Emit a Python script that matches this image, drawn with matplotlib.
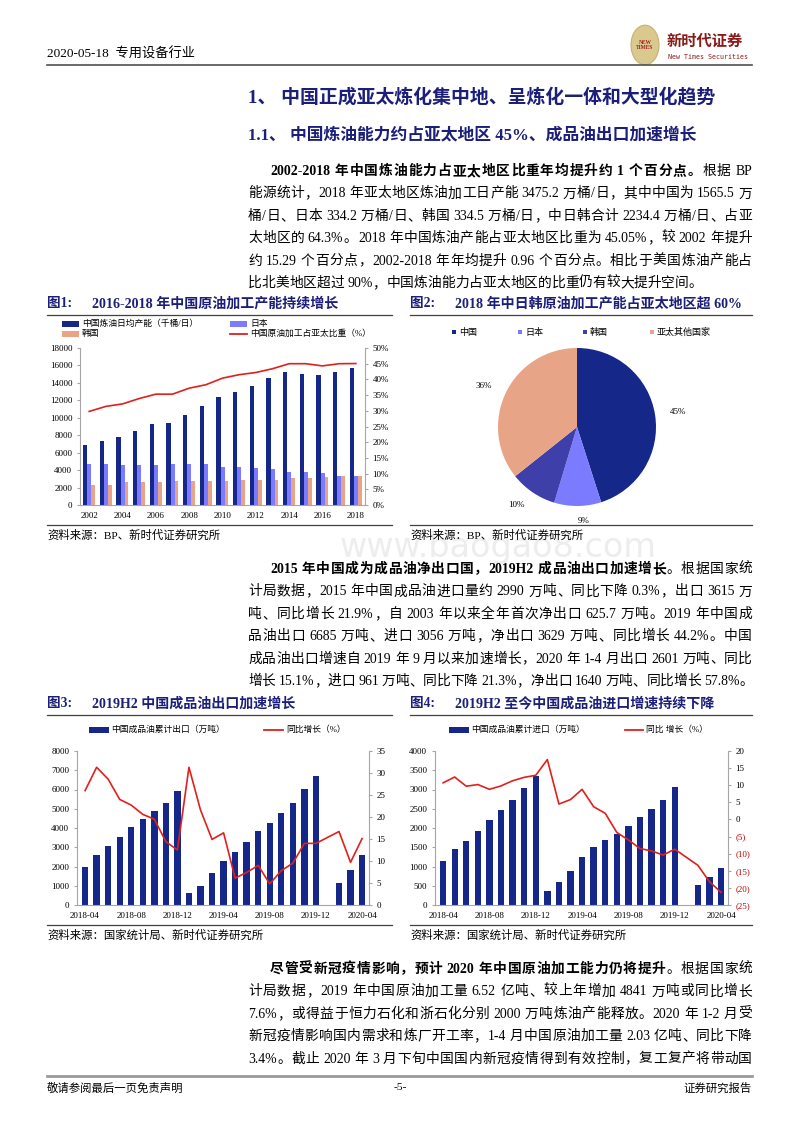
import re
import numpy as np
import matplotlib
matplotlib.use('Agg')
import matplotlib.pyplot as plt
from matplotlib.patches import Rectangle, Circle
from matplotlib.lines import Line2D

# ---- data ----
years = list(range(2002, 2019))
china_cap = [6900, 7350, 7850, 8500, 9250, 9450, 10350, 11350, 12350, 13000, 13650,
             14550, 15250, 15000, 14850, 15250, 15655]
japan_cap = [4750, 4700, 4550, 4550, 4600, 4700, 4700, 4700, 4350, 4350, 4250,
             4150, 3800, 3750, 3650, 3350, 3342]
korea_cap = [2300, 2300, 2600, 2600, 2650, 2700, 2750, 2750, 2750, 2850, 2870,
             2870, 3150, 3150, 3250, 3330, 3345]
china_share = [29.8, 31.4, 32.2, 33.9, 35.3, 35.3, 37.2, 38.3, 40.4, 41.5, 42.2,
               43.4, 45.0, 45.0, 44.3, 45.0, 45.05]

pie_names = ['中国', '日本', '韩国', '亚太其他国家']
pie_vals = [1565.5, 334.2, 334.5, 1240.8]
pie_pct = ['45%', '9%', '10%', '36%']

month_ticks = ['2018-04', '2018-08', '2018-12', '2019-04', '2019-08', '2019-12', '2020-04']
nan = np.nan
export_cum = [1990, 2610, 3080, 3530, 4070, 4450, 4870, 5280, 5900, 610, 970, 1680, 2300,
              2750, 3290, 3830, 4240, 4800, 5300, 6040, 6685, nan, 1130, 1840, 2601]
export_yoy = [26.0, 31.3, 28.6, 24.0, 22.7, 20.6, 19.5, 14.4, 12.5, 31.3, 21.6, 14.9, 16.4,
              6.1, 7.4, 9.0, 4.8, 7.8, 9.5, 14.0, 14.0, nan, 16.7, 9.7, 15.1]
import_cum = [1150, 1450, 1670, 1930, 2200, 2480, 2730, 3040, 3360, 355, 590, 890, 1240,
              1500, 1700, 1850, 2060, 2280, 2500, 2740, 3056, nan, 520, 740, 961]
import_yoy = [10.7, 12.4, 9.7, 10.2, 8.8, 9.8, 11.3, 12.3, 12.9, 17.5, 4.5, 5.8, 8.8,
              3.7, 1.8, -3.8, -6.0, -8.5, -9.2, -10.4, -8.7, nan, -13.4, -18.2, -21.3]

# ---- style ----
FONT = ['Liberation Serif', 'Noto Sans CJK SC']
NAVY = '#15288A'
TITLE = '#1B1F7A'
JAPAN = '#7B7BFF'
KOREA_PIE = '#3F3FAA'
SALMON = '#E8A487'
RED = '#E0201C'
GRAY = '#A6A6A6'

plt.rcParams['font.family'] = FONT
W, H = 800, 1132
fig = plt.figure(figsize=(8, 11.32), dpi=100)
R = fig.canvas.get_renderer()


def fx(x):
    return x / W


def fy(y):
    return 1 - y / H


def text(x, y, s, size=9, **kw):
    va = kw.pop('va', 'center')
    return fig.text(fx(x), fy(y), s, fontsize=size, va=va, **kw)


def hline(x0, x1, y, lw=0.8, color='#404040'):
    fig.add_artist(Line2D([fx(x0), fx(x1)], [fy(y), fy(y)], lw=lw, color=color))


def box(x0, y0, x1, y1, color):
    fig.add_artist(Rectangle((fx(x0), fy(y1)), (x1 - x0) / W, (y1 - y0) / H,
                             color=color, lw=0, transform=fig.transFigure))


def axes_px(x0, y0, x1, y1):
    return fig.add_axes([fx(x0), fy(y1), (x1 - x0) / W, (y1 - y0) / H])


def body_line(x0, x1, y, segs, size=9.9, justify=True):
    # segs: list of (text, bold); justified token by token
    items = []
    for s, bold in segs:
        for tok in re.findall(r'[0-9A-Za-z.%/\-]+| +|.', s):
            items.append((tok, bold))
    arts, widths = [], []
    for tok, bold in items:
        if tok.strip() == '':
            arts.append(None)
            widths.append(size * 0.3 * len(tok))
            continue
        t = fig.text(0, 0, tok, fontsize=size, va='baseline',
                     fontweight='bold' if bold else 'normal')
        arts.append(t)
        widths.append(t.get_window_extent(R).width)
    gap = 0
    if justify and len(items) > 1:
        gap = (x1 - x0 - sum(widths)) / (len(items) - 1)
    x = x0
    for t, w in zip(arts, widths):
        if t is not None:
            t.set_position((fx(x), fy(y + 5)))
        x += w + gap


def paragraph(y0, lines, step=22.4, last_justified=False):
    for i, segs in enumerate(lines):
        x0 = 270 if i == 0 else 248
        body_line(x0, 752, y0 + i * step, segs,
                  justify=(i < len(lines) - 1) or last_justified)


def style_axes(ax, ax2):
    for a in (ax, ax2):
        for s in a.spines.values():
            s.set_visible(False)
        a.tick_params(labelsize=6.5, length=2.5, color=GRAY, pad=3)
    ax.spines['left'].set_visible(True)
    ax.spines['bottom'].set_visible(True)
    ax2.spines['right'].set_visible(True)
    for s in (ax.spines['left'], ax.spines['bottom'], ax2.spines['right']):
        s.set_color(GRAY)
        s.set_linewidth(0.8)
    ax.tick_params(axis='x', length=0, pad=5)


# ---- header ----
text(47, 54, '2020-05-18  专用设备行业', 9.5)
hline(47, 752, 65, lw=1.2, color='#505050')
fig.add_artist(Circle((fx(645), fy(45)), 14 / W, transform=fig.transFigure,
                      facecolor='#D9C98F', edgecolor='#C8B070', lw=0.8))
text(645, 45, 'NEW\nTIMES', 4, ha='center', color='#A02020', fontweight='bold',
     linespacing=0.9)
text(667, 42, '新时代证券', 11, color='#8B1A1A', fontweight='bold')
text(668, 57, 'New Times Securities', 4.8, color='#8B1A1A', family='DejaVu Sans Mono')

# watermark
text(498, 548, 'www.baogao8.com', 24, ha='center', color='#EDEDED',
     family='DejaVu Sans', zorder=0)

# ---- headings ----
text(248, 97, '1、 中国正成亚太炼化集中地、呈炼化一体和大型化趋势', 13.6, color=TITLE,
     fontweight='bold')
text(248, 135, '1.1、 中国炼油能力约占亚太地区 45%、成品油出口加速增长', 12.1, color=TITLE,
     fontweight='bold')

paragraph(170, [
    [('2002-2018 年中国炼油能力占亚太地区比重年均提升约 1 个百分点。', True), ('根据 BP', False)],
    [('能源统计，2018 年亚太地区炼油加工日产能 3475.2 万桶/日，其中中国为 1565.5 万', False)],
    [('桶/日、日本 334.2 万桶/日、韩国 334.5 万桶/日，中日韩合计 2234.4 万桶/日、占亚', False)],
    [('太地区的 64.3%。2018 年中国炼油产能占亚太地区比重为 45.05%，较 2002 年提升', False)],
    [('约 15.29 个百分点，2002-2018 年年均提升 0.96 个百分点。相比于美国炼油产能占', False)],
    [('比北美地区超过 90%，中国炼油能力占亚太地区的比重仍有较大提升空间。', False)],
])

paragraph(568, [
    [('2015 年中国成为成品油净出口国，2019H2 成品油出口加速增长', True), ('。根据国家统', False)],
    [('计局数据，2015 年中国成品油进口量约 2990 万吨、同比下降 0.3%，出口 3615 万', False)],
    [('吨、同比增长 21.9%，自 2003 年以来全年首次净出口 625.7 万吨。2019 年中国成', False)],
    [('品油出口 6685 万吨、进口 3056 万吨，净出口 3629 万吨、同比增长 44.2%。中国', False)],
    [('成品油出口增速自 2019 年 9 月以来加速增长，2020 年 1-4 月出口 2601 万吨、同比', False)],
    [('增长 15.1%，进口 961 万吨、同比下降 21.3%，净出口 1640 万吨、同比增长 57.8%。', False)],
])

paragraph(968, [
    [('尽管受新冠疫情影响，预计 2020 年中国原油加工能力仍将提升', True), ('。根据国家统', False)],
    [('计局数据，2019 年中国原油加工量 6.52 亿吨、较上年增加 4841 万吨或同比增长', False)],
    [('7.6%，或得益于恒力石化和浙石化分别 2000 万吨炼油产能释放。2020 年 1-2 月受', False)],
    [('新冠疫情影响国内需求和炼厂开工率，1-4 月中国原油加工量 2.03 亿吨、同比下降', False)],
    [('3.4%。截止 2020 年 3 月下旬中国国内新冠疫情得到有效控制，复工复产将带动国', False)],
], last_justified=True)

# ---- figure titles / rules / sources ----
for x0, x1, y, num, title in [
        (47, 392, 304, '图1:', '2016-2018 年中国原油加工产能持续增长'),
        (410, 752, 304, '图2:', '2018 年中日韩原油加工产能占亚太地区超 60%'),
        (47, 392, 704, '图3:', '2019H2 中国成品油出口加速增长'),
        (410, 752, 704, '图4:', '2019H2 至今中国成品油进口增速持续下降')]:
    text(x0, y, num, 9.8, color=TITLE, fontweight='bold')
    text(x0 + 45, y, title, 10.1, color=TITLE, fontweight='bold')
    hline(x0, x1, y + 11, lw=0.9)
    hline(x0, x1, y + 221, lw=0.9)

text(47, 535, '资料来源：BP、新时代证券研究所', 8.2)
text(410, 535, '资料来源：BP、新时代证券研究所', 8.2)
text(47, 935, '资料来源：国家统计局、新时代证券研究所', 8.2)
text(410, 935, '资料来源：国家统计局、新时代证券研究所', 8.2)

# ---- chart 1 ----
ax = axes_px(80, 348, 365, 505)
ax2 = ax.twinx()
x = np.arange(len(years))
ax.bar(x - 0.24, china_cap, 0.26, color=NAVY)
ax.bar(x, japan_cap, 0.24, color=JAPAN)
ax.bar(x + 0.24, korea_cap, 0.22, color=SALMON)
ax2.plot(x, china_share, color=RED, lw=1.2)
ax.set_xlim(-0.55, len(years) - 0.45)
ax.set_ylim(0, 18000)
ax.set_yticks(range(0, 18001, 2000))
ax2.set_ylim(0, 50)
ax2.set_yticks(range(0, 51, 5))
ax2.set_yticklabels([f'{v}%' for v in range(0, 51, 5)])
ax.set_xticks(x[::2])
ax.set_xticklabels(years[::2])
style_axes(ax, ax2)

box(62, 321, 79, 327, NAVY)
text(82, 324, '中国炼油日均产能（千桶/日）', 6.3)
box(230, 321, 247, 327, JAPAN)
text(250, 324, '日本', 6.3)
box(62, 331, 79, 337, SALMON)
text(82, 334, '韩国', 6.3)
hline(230, 247, 334, lw=1.3, color=RED)
text(250, 334, '中国原油加工占亚太比重（%）', 6.3)

# ---- chart 2 (pie) ----
axp = axes_px(498, 348, 656, 506)
axp.pie(pie_vals, colors=[NAVY, JAPAN, KOREA_PIE, SALMON], startangle=90,
        counterclock=False, labels=pie_pct, labeldistance=1.19,
        textprops={'fontsize': 6.5}, wedgeprops={'linewidth': 0})
axp.set_xlim(-1, 1)
axp.set_ylim(-1, 1)
for xl, name, c in zip([452, 518, 583, 650], pie_names, [NAVY, JAPAN, KOREA_PIE, SALMON]):
    box(xl, 330, xl + 4, 334, c)
    text(xl + 7, 332, name, 6.5)


# ---- chart 3 / 4 ----
def month_chart(x0, x1, cum, yoy, ymax, ystep, rlim, rstep):
    ax = axes_px(x0, 751, x1, 905)
    ax2 = ax.twinx()
    xs = np.arange(len(cum))
    cum = np.array(cum, dtype=float)
    yoy = np.array(yoy, dtype=float)
    ok = ~np.isnan(cum)
    ax.bar(xs[ok], cum[ok], 0.55, color=NAVY)
    ok = ~np.isnan(yoy)
    ax2.plot(xs[ok], yoy[ok], color=RED, lw=1.2)
    ax.set_xlim(-0.7, len(cum) - 0.4)
    ax.set_ylim(0, ymax)
    ax.set_yticks(np.arange(0, ymax + 1, ystep))
    ax2.set_ylim(*rlim)
    rt = np.arange(rlim[0], rlim[1] + 1, rstep)
    ax2.set_yticks(rt)
    ax2.set_yticklabels([f'({-v})' if v < 0 else f'{v}' for v in rt])
    for lab, v in zip(ax2.get_yticklabels(), rt):
        if v < 0:
            lab.set_color('#C00000')
    ax.set_xticks(range(0, len(cum), 4))
    ax.set_xticklabels(month_ticks)
    style_axes(ax, ax2)
    return ax


month_chart(77, 369, export_cum, export_yoy, 8000, 1000, (0, 35), 5)
box(89, 727, 109, 733, NAVY)
text(111, 730, '中国成品油累计出口（万吨）', 6.3)
hline(264, 283, 730, lw=1.3, color=RED)
text(286, 730, '同比增长（%）', 6.3)

month_chart(435, 728, import_cum, import_yoy, 4000, 500, (-25, 20), 5)
box(449, 727, 469, 733, NAVY)
text(471, 730, '中国成品油累计进口（万吨）', 6.3)
hline(625, 643, 730, lw=1.3, color=RED)
text(646, 730, '同比 增长（%）', 6.3)

# ---- footer ----
hline(47, 752, 1076, lw=2, color='#9A9A9A')
text(47, 1088, '敬请参阅最后一页免责声明', 8.2)
text(400, 1088, '-5-', 8.2, ha='center')
text(752, 1088, '证券研究报告', 8.2, ha='right')

fig.savefig('out.png', dpi=100)
